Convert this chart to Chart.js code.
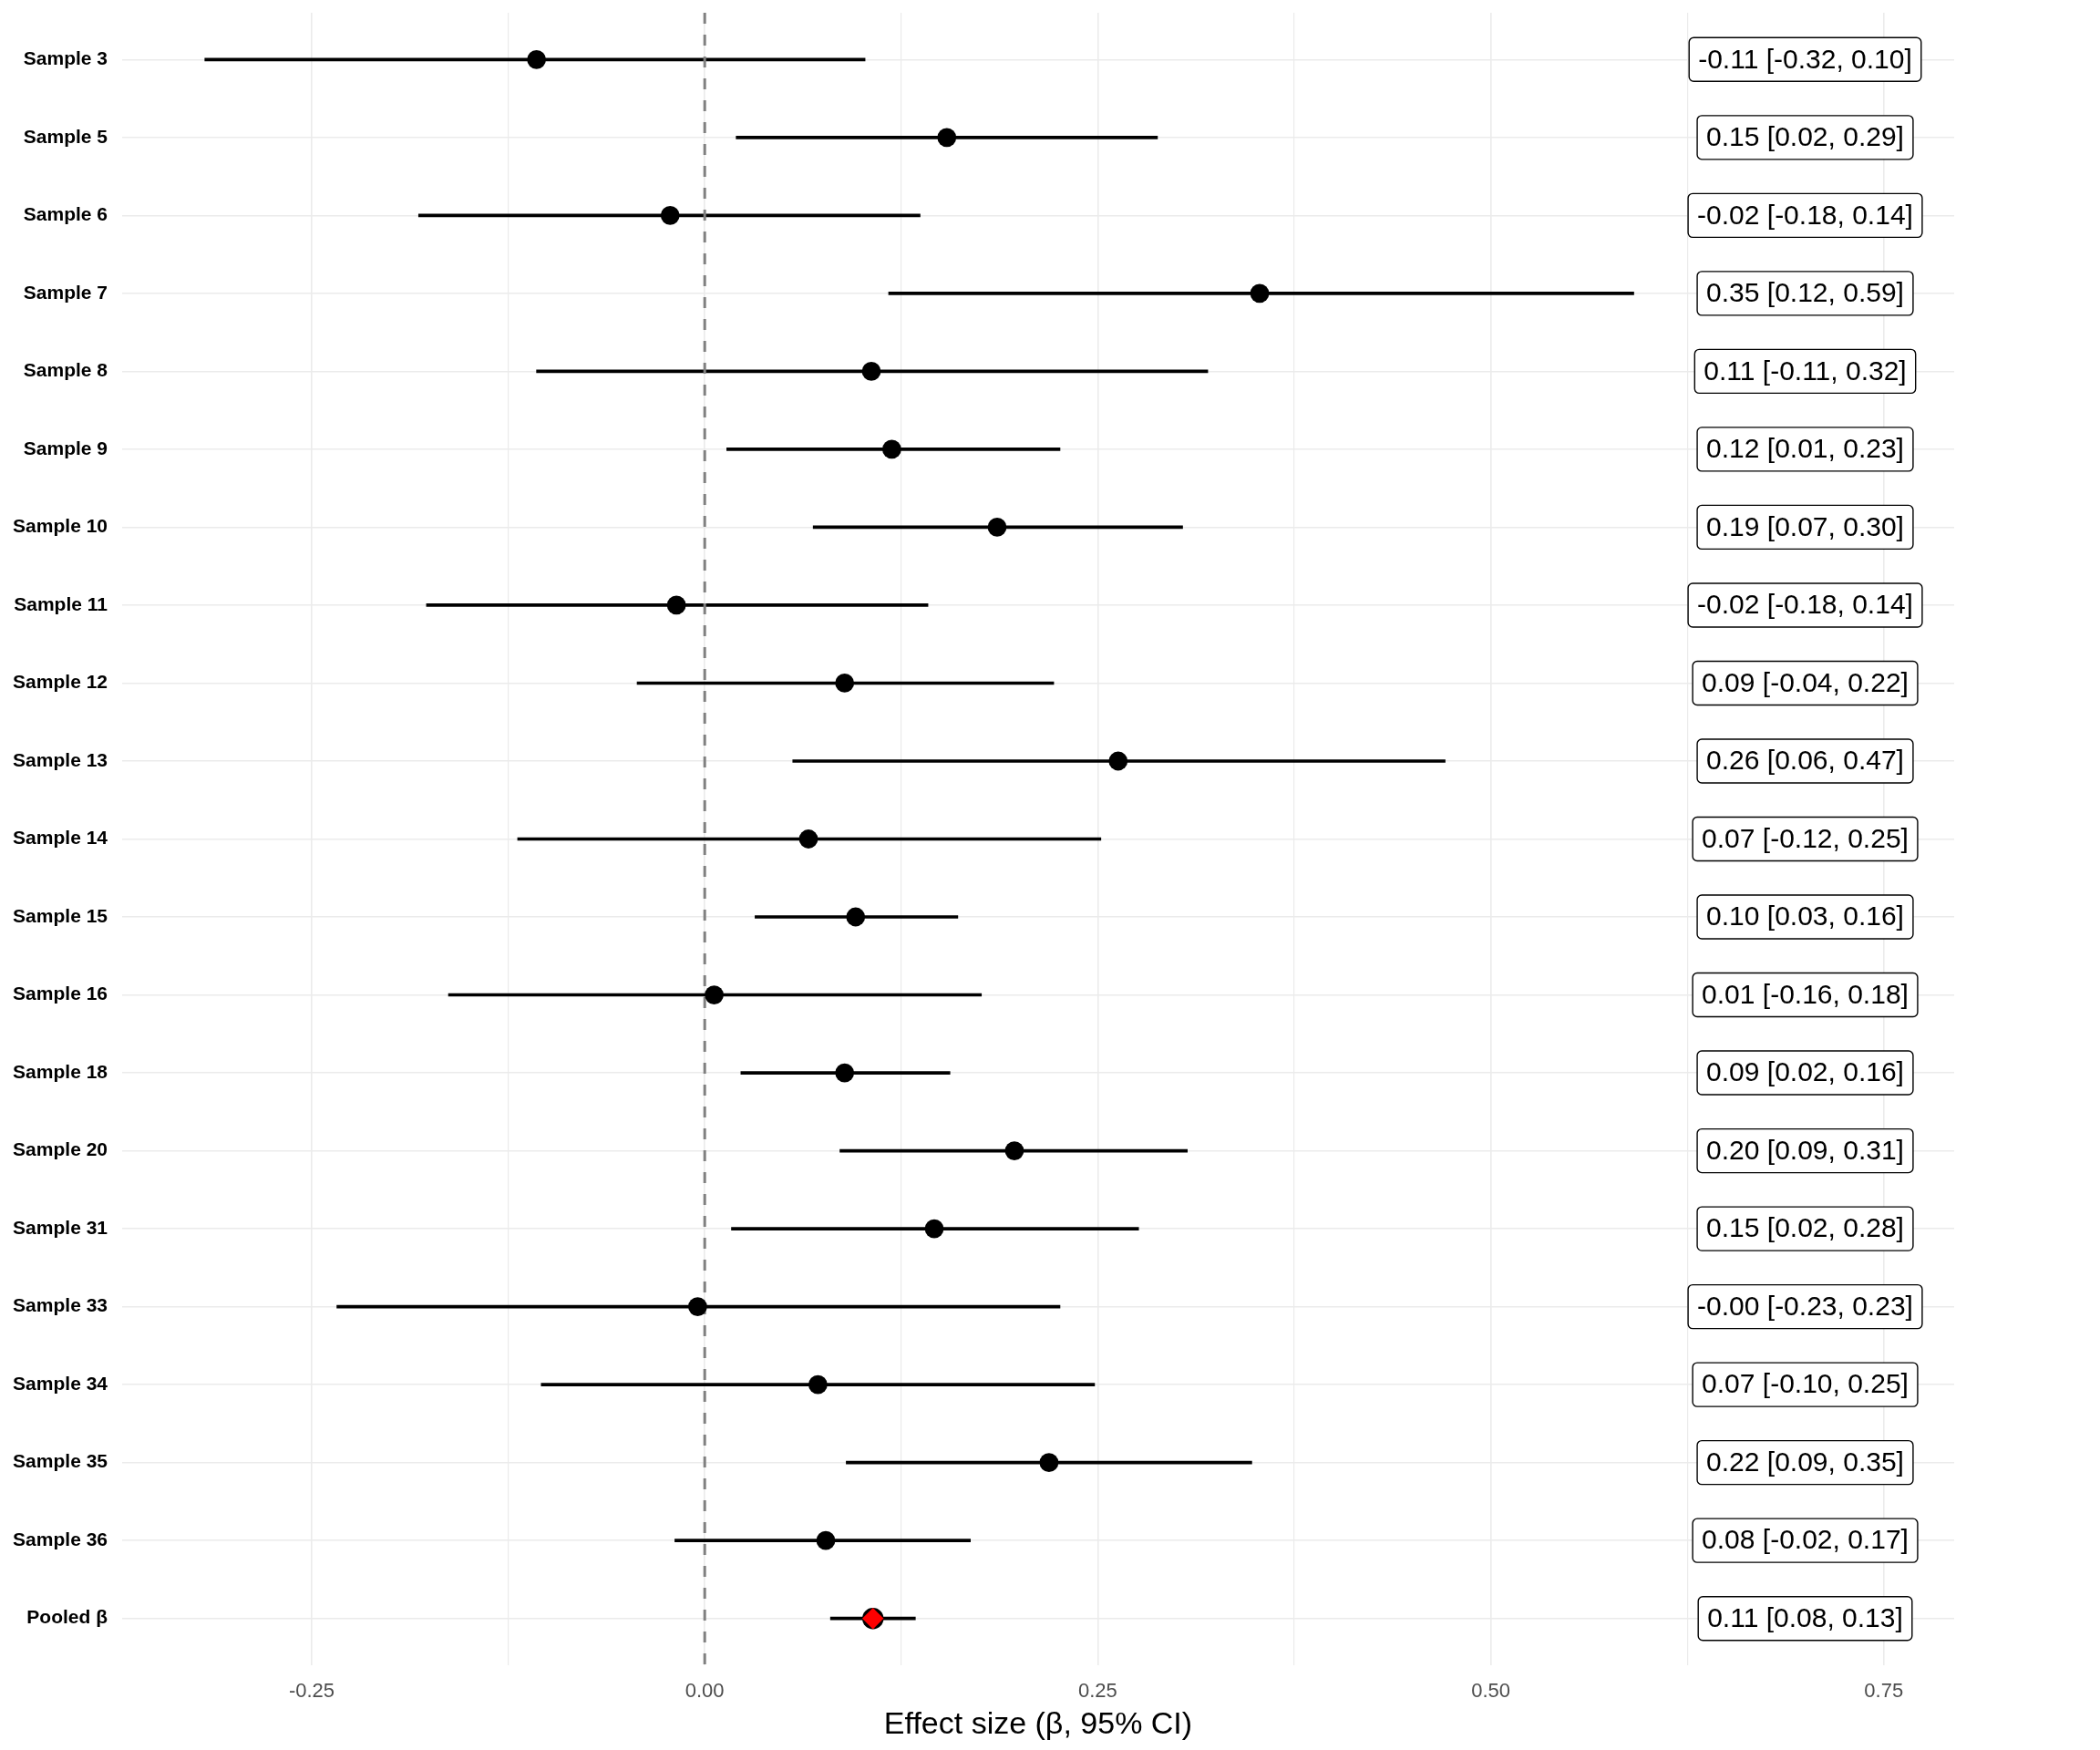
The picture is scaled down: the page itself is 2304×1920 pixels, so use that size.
<!DOCTYPE html>
<html>
<head>
<meta charset="utf-8">
<title>Forest plot</title>
<script src="https://cdn.jsdelivr.net/npm/chart.js@4.4.1/dist/chart.umd.min.js"></script>
<style>
  html, body { margin: 0; padding: 0; background: #ffffff; }
  #wrap { width: 2304px; height: 1920px; }
</style>
</head>
<body>
<div id="wrap"><canvas id="forestChart" width="2304" height="1920"></canvas></div>
<script>
// Study rows, top to bottom (last row is the pooled estimate)
const sampleNames = [
    'Sample 3', 'Sample 5', 'Sample 6', 'Sample 7', 'Sample 8', 'Sample 9', 'Sample 10',
    'Sample 11', 'Sample 12', 'Sample 13', 'Sample 14', 'Sample 15', 'Sample 16', 'Sample 18',
    'Sample 20', 'Sample 31', 'Sample 33', 'Sample 34', 'Sample 35', 'Sample 36', 'Pooled β'
];
const estimates = [
    -0.107, 0.154, -0.022, 0.353, 0.106, 0.119, 0.186,
    -0.018, 0.089, 0.263, 0.066, 0.096, 0.006, 0.089,
    0.197, 0.146, -0.0045, 0.072, 0.219, 0.077, 0.107
];
const lowerCI = [
    -0.318, 0.020, -0.182, 0.117, -0.107, 0.014, 0.069,
    -0.177, -0.043, 0.056, -0.119, 0.032, -0.163, 0.023,
    0.086, 0.017, -0.234, -0.104, 0.090, -0.019, 0.080
];
const upperCI = [
    0.102, 0.288, 0.137, 0.591, 0.320, 0.226, 0.304,
    0.142, 0.222, 0.471, 0.252, 0.161, 0.176, 0.156,
    0.307, 0.276, 0.226, 0.248, 0.348, 0.169, 0.134
];
const majorTicks = [-0.25, 0, 0.25, 0.5, 0.75];
const minorTicks = [-0.125, 0.125, 0.375, 0.625];
const labelX = 0.7; // where the text boxes sit on the effect-size axis

const pooledIndex = sampleNames.length - 1;
const rowOf = (i) => i + 1;

function fmt(v) {
    return v.toFixed(2);
}

const ciLabels = estimates.map((e, i) => `${fmt(e)} [${fmt(lowerCI[i])}, ${fmt(upperCI[i])}]`);

/**
 * Draws the rounded white label boxes with the estimate and CI.
 */
const ciLabelPlugin = {
    id: 'ciLabels',
    afterDatasetsDraw(chart) {
        const ctx = chart.ctx;
        const xScale = chart.scales.x;
        const yScale = chart.scales.y;
        ctx.save();
        ctx.font = '30px "Liberation Sans", Arial, sans-serif';
        ctx.textAlign = 'center';
        ctx.textBaseline = 'middle';
        ciLabels.forEach((txt, i) => {
            const cx = xScale.getPixelForValue(labelX);
            const cy = yScale.getPixelForValue(rowOf(i));
            const w = ctx.measureText(txt).width + 20;
            const h = 48;
            ctx.beginPath();
            ctx.roundRect(cx - w / 2, cy - h / 2, w, h, 5);
            ctx.fillStyle = '#ffffff';
            ctx.fill();
            ctx.lineWidth = 1.4;
            ctx.strokeStyle = '#000000';
            ctx.stroke();
            ctx.fillStyle = '#000000';
            ctx.fillText(txt, cx, cy + 1);
        });
        ctx.restore();
    }
};

const ctx = document.getElementById('forestChart').getContext('2d');

new Chart(ctx, {
    type: 'scatter',
    data: {
        datasets: [
            {
                // confidence intervals as thin floating bars
                type: 'bar',
                indexAxis: 'y',
                data: sampleNames.map((n, i) => ({ y: rowOf(i), x: [lowerCI[i], upperCI[i]] })),
                backgroundColor: '#000000',
                borderWidth: 0,
                barThickness: 3,
                order: 4
            },
            {
                // reference line at zero
                type: 'line',
                data: [{ x: 0, y: 0.4 }, { x: 0, y: 21.6 }],
                borderColor: '#808080',
                borderWidth: 3,
                borderDash: [12, 12],
                pointRadius: 0,
                fill: false,
                order: 3
            },
            {
                type: 'scatter',
                data: sampleNames.map((n, i) => ({ x: estimates[i], y: rowOf(i) })),
                backgroundColor: '#000000',
                borderWidth: 0,
                pointRadius: (c) => (c.dataIndex === pooledIndex ? 11.7 : 10.4),
                order: 2
            },
            {
                type: 'scatter',
                data: [{ x: estimates[pooledIndex], y: rowOf(pooledIndex) }],
                pointStyle: 'rectRot',
                backgroundColor: '#ff0000',
                borderWidth: 0,
                pointRadius: 11.7,
                order: 1
            }
        ]
    },
    options: {
        responsive: false,
        devicePixelRatio: 1,
        animation: false,
        layout: {
            padding: { top: 14, right: 160, left: 0, bottom: 0 }
        },
        plugins: {
            legend: { display: false },
            tooltip: { enabled: false }
        },
        scales: {
            x: {
                type: 'linear',
                min: -0.3706,
                max: 0.7948,
                border: { display: false },
                grid: {
                    color: '#ebebeb',
                    lineWidth: (c) => (c.tick && majorTicks.includes(c.tick.value) ? 1.6 : 1.2),
                    drawTicks: false
                },
                afterBuildTicks: (scale) => {
                    scale.ticks = majorTicks.concat(minorTicks)
                        .sort((a, b) => a - b)
                        .map((v) => ({ value: v }));
                },
                ticks: {
                    padding: 16,
                    color: '#4d4d4d',
                    font: { family: '"Liberation Sans", Arial, sans-serif', size: 22 },
                    maxRotation: 0,
                    autoSkip: false,
                    callback: (v) => (majorTicks.includes(v) ? fmt(v) : '')
                },
                title: {
                    display: true,
                    text: 'Effect size (β, 95% CI)',
                    color: '#000000',
                    font: { family: '"Liberation Sans", Arial, sans-serif', size: 34 },
                    padding: { top: 0, bottom: 7 }
                },
                afterFit: (scale) => {
                    scale.height = 93;
                    scale.paddingLeft = 0;
                    scale.paddingRight = 0;
                }
            },
            y: {
                type: 'linear',
                reverse: true,
                min: 0.4,
                max: 21.6,
                offset: false,
                border: { display: false },
                grid: {
                    color: '#ebebeb',
                    lineWidth: 1.6,
                    drawTicks: false,
                    offset: false
                },
                afterBuildTicks: (scale) => {
                    scale.ticks = sampleNames.map((n, i) => ({ value: rowOf(i) }));
                },
                ticks: {
                    padding: 16,
                    color: '#000000',
                    autoSkip: false,
                    font: { family: '"Liberation Sans", Arial, sans-serif', size: 21, weight: 'bold' },
                    callback: (v) => sampleNames[v - 1]
                },
                afterFit: (scale) => {
                    scale.width = 134;
                    scale.paddingTop = 0;
                    scale.paddingBottom = 0;
                }
            }
        }
    },
    plugins: [ciLabelPlugin]
});
</script>
</body>
</html>
